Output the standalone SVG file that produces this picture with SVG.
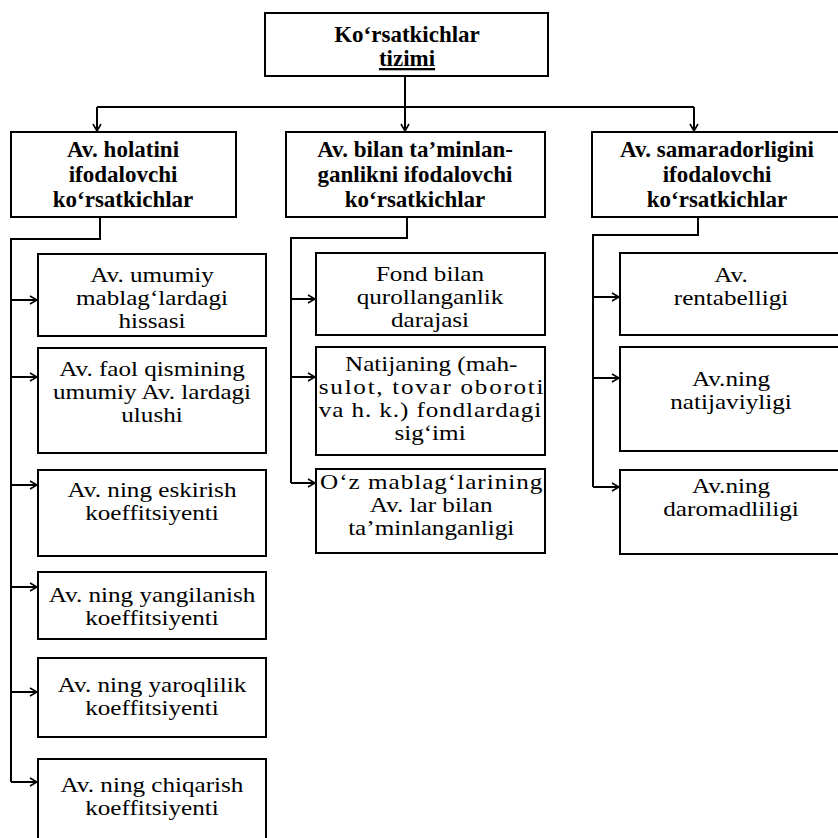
<svg xmlns="http://www.w3.org/2000/svg" width="838" height="838" viewBox="0 0 838 838">
<style>
.box{fill:#fff;stroke:#000;stroke-width:2}
.h{font-family:"Liberation Serif",serif;font-weight:bold;font-size:23px;text-anchor:middle;fill:#000}
.t{font-family:"Liberation Serif",serif;font-size:21.5px;text-anchor:middle;fill:#000}
.s{text-anchor:start}
.c{fill:none;stroke:#000;stroke-width:2}
</style>
<defs>
<marker id="ar" markerWidth="10" markerHeight="10" refX="9" refY="5" orient="auto" markerUnits="userSpaceOnUse">
<path d="M2,1 L9,5 L2,9" fill="none" stroke="#000" stroke-width="1.6"/>
</marker>
</defs>
<rect width="838" height="838" fill="#fff"/>
<g id="connectors">
<path class="c" d="M405,76 V131" marker-end="url(#ar)"/>
<path class="c" d="M97,107 H694"/>
<path class="c" d="M97,107 V131" marker-end="url(#ar)"/>
<path class="c" d="M694,107 V131" marker-end="url(#ar)"/>
<path class="c" d="M100,217 V239 H11 V782"/>
<path class="c" d="M11,300 H37" marker-end="url(#ar)"/>
<path class="c" d="M11,377 H37" marker-end="url(#ar)"/>
<path class="c" d="M11,485 H37" marker-end="url(#ar)"/>
<path class="c" d="M11,587 H37" marker-end="url(#ar)"/>
<path class="c" d="M11,692 H37" marker-end="url(#ar)"/>
<path class="c" d="M11,782 H37" marker-end="url(#ar)"/>
<path class="c" d="M407,217 V238 H291 V483"/>
<path class="c" d="M291,299 H315" marker-end="url(#ar)"/>
<path class="c" d="M291,377 H315" marker-end="url(#ar)"/>
<path class="c" d="M291,483 H315" marker-end="url(#ar)"/>
<path class="c" d="M698,217 V235 H593 V487"/>
<path class="c" d="M593,297 H619" marker-end="url(#ar)"/>
<path class="c" d="M593,378 H619" marker-end="url(#ar)"/>
<path class="c" d="M593,487 H619" marker-end="url(#ar)"/>
</g>
<g id="root">
<rect class="box" x="265" y="13" width="283" height="63"/>
<text class="h" x="407" y="42">Ko‘rsatkichlar</text>
<text class="h" x="407" y="66" text-decoration="underline">tizimi</text>
</g>
<g id="holat">
<rect class="box" x="11" y="132" width="225" height="85"/>
<text class="h" x="123" y="157">Av. holatini</text>
<text class="h" x="123" y="182">ifodalovchi</text>
<text class="h" x="123" y="207">ko‘rsatkichlar</text>
</g>
<g id="taminlan">
<rect class="box" x="286" y="132" width="259" height="85"/>
<text class="h" x="415" y="157">Av. bilan ta’minlan-</text>
<text class="h" x="415" y="182">ganlikni ifodalovchi</text>
<text class="h" x="415" y="207">ko‘rsatkichlar</text>
</g>
<g id="samara">
<rect class="box" x="592" y="132" width="252" height="85"/>
<text class="h" x="717" y="157">Av. samaradorligini</text>
<text class="h" x="717" y="182">ifodalovchi</text>
<text class="h" x="717" y="207">ko‘rsatkichlar</text>
</g>
<g id="l1">
<rect class="box" x="38" y="254" width="228" height="82"/>
<g transform="translate(152,0) scale(1.17,1)">
<text class="t" x="0" y="282">Av. umumiy</text>
<text class="t" x="0" y="305">mablag‘lardagi</text>
<text class="t" x="0" y="328">hissasi</text>
</g>
</g>
<g id="l2">
<rect class="box" x="38" y="348" width="228" height="105"/>
<g transform="translate(152,0) scale(1.17,1)">
<text class="t" x="0" y="376">Av. faol qismining</text>
<text class="t" x="0" y="399">umumiy Av. lardagi</text>
<text class="t" x="0" y="422">ulushi</text>
</g>
</g>
<g id="l3">
<rect class="box" x="38" y="470" width="228" height="86"/>
<g transform="translate(152,0) scale(1.17,1)">
<text class="t" x="0" y="497">Av. ning eskirish</text>
<text class="t" x="0" y="520">koeffitsiyenti</text>
</g>
</g>
<g id="l4">
<rect class="box" x="38" y="572" width="228" height="67"/>
<g transform="translate(152,0) scale(1.17,1)">
<text class="t" x="0" y="602">Av. ning yangilanish</text>
<text class="t" x="0" y="625">koeffitsiyenti</text>
</g>
</g>
<g id="l5">
<rect class="box" x="38" y="658" width="228" height="79"/>
<g transform="translate(152,0) scale(1.17,1)">
<text class="t" x="0" y="692">Av. ning yaroqlilik</text>
<text class="t" x="0" y="715">koeffitsiyenti</text>
</g>
</g>
<g id="l6">
<rect class="box" x="38" y="759" width="228" height="90"/>
<g transform="translate(152,0) scale(1.17,1)">
<text class="t" x="0" y="792">Av. ning chiqarish</text>
<text class="t" x="0" y="815">koeffitsiyenti</text>
</g>
</g>
<g id="m1">
<rect class="box" x="316" y="253" width="229" height="82"/>
<g transform="translate(430,0) scale(1.17,1)">
<text class="t" x="0" y="281">Fond bilan</text>
<text class="t" x="0" y="304">qurollanganlik</text>
<text class="t" x="0" y="327">darajasi</text>
</g>
</g>
<g id="m2">
<rect class="box" x="316" y="347" width="229" height="108"/>
<g transform="translate(430,0) scale(1.17,1)">
<text class="t" x="1" y="371">Natijaning  (mah-</text>
<text class="t s" x="-95" y="394" textLength="192" lengthAdjust="spacing">sulot, tovar oboroti</text>
<text class="t s" x="-95" y="417" textLength="190" lengthAdjust="spacing">va h. k.) fondlardagi</text>
<text class="t" x="0" y="440">sig‘imi</text>
</g>
</g>
<g id="m3">
<rect class="box" x="316" y="469" width="229" height="84"/>
<g transform="translate(430,0) scale(1.17,1)">
<text class="t s" x="-94" y="489" textLength="190" lengthAdjust="spacing">O‘z mablag‘larining</text>
<text class="t" x="1" y="512">Av. lar bilan</text>
<text class="t" x="1" y="535">ta’minlanganligi</text>
</g>
</g>
<g id="r1">
<rect class="box" x="620" y="253" width="224" height="82"/>
<g transform="translate(731,0) scale(1.17,1)">
<text class="t" x="0" y="282">Av.</text>
<text class="t" x="0" y="305">rentabelligi</text>
</g>
</g>
<g id="r2">
<rect class="box" x="620" y="347" width="224" height="104"/>
<g transform="translate(731,0) scale(1.17,1)">
<text class="t" x="0" y="386">Av.ning</text>
<text class="t" x="0" y="409">natijaviyligi</text>
</g>
</g>
<g id="r3">
<rect class="box" x="620" y="470" width="224" height="84"/>
<g transform="translate(731,0) scale(1.17,1)">
<text class="t" x="0" y="493">Av.ning</text>
<text class="t" x="0" y="516">daromadliligi</text>
</g>
</g>
</svg>
